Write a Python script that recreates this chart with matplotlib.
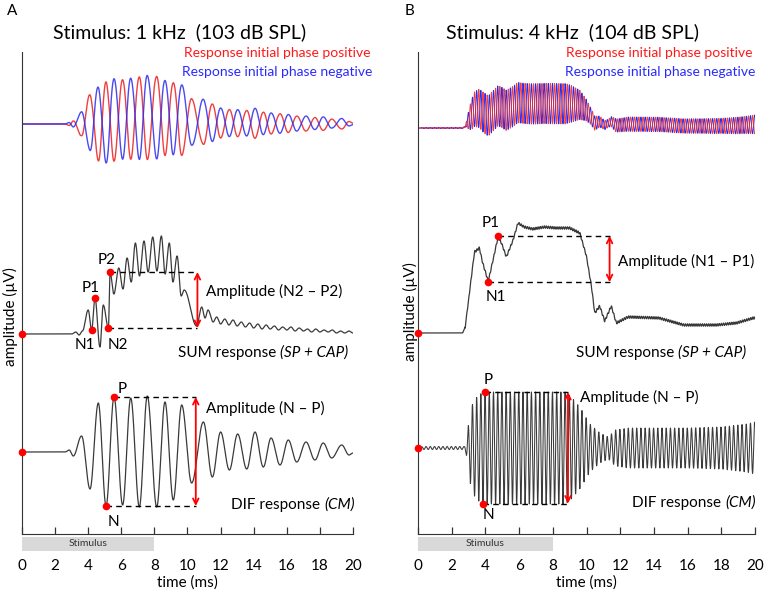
import numpy as np
import matplotlib.pyplot as plt

plt.rcParams['font.family'] = ['Lato', 'DejaVu Sans']

# ---- values (time in ms, amplitude in arbitrary units) ----
# Panel A, 1 kHz: SUM response, extrema of the trace
sum_a_t = [0, 3.0, 3.25, 3.45, 3.65, 4.0, 4.21, 4.41, 4.71, 4.91, 5.22, 5.32,
           5.55, 5.85, 6.1, 6.35, 6.6, 6.85, 7.1, 7.37, 7.62, 7.9, 8.15, 8.42,
           8.65, 8.9, 9.12, 9.37, 9.62, 9.8, 10.55, 10.86, 11.06, 11.24, 11.55,
           11.76, 12.0, 12.25, 12.5, 12.75, 13.0, 13.25, 13.5, 13.75, 14.0,
           14.25, 14.5, 14.75, 15.0, 15.25, 15.5, 15.75, 16.0, 16.25, 16.5,
           16.75, 17.0, 17.25, 17.5, 17.75, 18.0, 18.25, 18.5, 18.75, 19.0,
           19.25, 19.5, 19.75, 20.0]
sum_a_v = [0, 0, 2, -1, 3, 24, 4, 36, -13, 29, 6, 62,
           40, 66, 45, 76, 52, 91, 58, 93, 62, 97, 63, 98,
           60, 91, 52, 78, 38, 44, 8, 27, 16, 24, 12,
           17, 10, 15, 9, 14, 8, 12, 7, 11, 6,
           10, 5, 9, 5, 8, 4, 7, 4, 7, 3,
           6, 3, 5, 2, 5, 2, 4, 2, 4, 1,
           3, 1, 3, 1]
# Panel A: DIF response, extrema of the trace
dif_a_t = [0, 2.6, 2.85, 3.1, 3.6, 4.11, 4.61, 5.08, 5.56, 6.08, 6.57, 7.09,
           7.57, 8.14, 8.64, 9.14, 9.65, 10.25, 10.96, 11.5, 12.0, 12.53, 13.03,
           13.58, 14.08, 14.58, 15.05, 15.59, 16.09, 16.6, 17.16, 17.7, 18.2,
           18.71, 19.32, 19.76, 20.0]
dif_a_v = [0, 0, 2, -4, 16, -37, 49, -54, 55, -53, 54, -55,
           56, -55, 50, -48, 47, -31, 30, -25, 20, -18, 18,
           -17, 20, -15, 14, -13, 12, -10, 10, -8, 9,
           -6, 7, -3, -1]
sum_a_marks = {'N1': 4.21, 'P1': 4.41, 'N2': 5.22, 'P2': 5.32}
dif_a_marks = {'N': 5.08, 'P': 5.56}

# Panel B, 4 kHz: SUM response (slow shape) and DIF envelope
sum_b_t = [0, 2.65, 2.8, 3.05, 3.35, 3.64, 3.84, 4.17, 4.45, 4.75, 4.95, 5.24,
           5.64, 5.93, 6.3, 6.8, 7.5, 8.2, 9.0, 9.6, 9.99, 10.29, 10.49, 10.78,
           11.08, 11.47, 11.77, 12.46, 14.3, 15.77, 17.7, 18.9, 19.9, 20.0]
sum_b_v = [0, 0, 6, 40, 81, 85, 70, 51.6, 73, 96, 90, 76,
           93, 110, 106, 104, 106, 105, 105, 100, 77, 47, 20, 27,
           12, 27, 10, 16, 15, 8, 8, 10, 15, 15]
sum_b_ripple = 1.2
dif_b_env_t = [0, 0.3, 2.75, 2.85, 2.96, 3.16, 3.35, 3.6, 3.9, 8.75, 9.1, 9.64,
               10.2, 10.8, 11.3, 11.7, 12.5, 14.0, 16.0, 18.0, 19.5, 20.0]
dif_b_env_v = [0, 1.5, 1.5, 5, 20, 41, 48, 53, 56, 56, 51, 40,
               24, 15, 11, 18, 20, 20, 20, 21, 24, 26]
dif_b_freq = 4.0      # kHz
dif_b_peak = 3.98     # time of the marked P peak
sum_b_marks = {'N1': 4.17, 'P1': 4.75}
dif_b_marks = {'N': 3.855, 'P': 3.98}

ticks = list(range(0, 21, 2))

RED = '#ee2a2a'
BLUE = '#2a2aee'
GRAY = '#3a3a3a'

t = np.linspace(0, 20, 8001)


def smooth(tk, vk, x):
    tk = np.asarray(tk, float)
    vk = np.asarray(vk, float)
    i = np.clip(np.searchsorted(tk, x, side='right') - 1, 0, len(tk) - 2)
    u = (x - tk[i]) / (tk[i + 1] - tk[i])
    w = (1 - np.cos(np.pi * u)) / 2
    return vk[i] + (vk[i + 1] - vk[i]) * w


sum_a = smooth(sum_a_t, sum_a_v, t)
dif_a = smooth(dif_a_t, dif_a_v, t)
sum_b = np.interp(t, sum_b_t, sum_b_v) + sum_b_ripple * np.cos(2 * np.pi * 2 * dif_b_freq * t) * (t > 2.8)
dif_b = np.interp(t, dif_b_env_t, dif_b_env_v) * np.cos(2 * np.pi * dif_b_freq * (t - dif_b_peak))

fig = plt.figure(figsize=(7.67, 5.96), dpi=100)
W, H = 767, 596


def setup_axes(left_px, width_px):
    ax = fig.add_axes([left_px / W, (H - 534) / H, width_px / W, 482 / H])
    ax.set_xlim(0, 20)
    ax.set_ylim(0, 482)
    for s in ('top', 'right'):
        ax.spines[s].set_visible(False)
    ax.spines['left'].set_color('#333333')
    ax.spines['bottom'].set_color('#333333')
    ax.set_yticks([])
    ax.set_xticks(ticks)
    ax.tick_params(axis='x', direction='in', length=5, width=0.9, color='#333333',
                   pad=18, labelsize=11)
    ax.set_xlabel('time (ms)', fontsize=11, labelpad=2)
    ax.add_patch(plt.Rectangle((0, -17), 8, 14, color='#d9d9d9', clip_on=False, lw=0))
    ax.text(4, -10, 'Stimulus', fontsize=7.5, ha='center', va='center', color='#333333')
    return ax


def mixed_label(ax, x_right, y, normal, italic, size=11):
    it = ax.text(x_right, y, italic, style='italic', ha='right', va='center', fontsize=size)
    r = fig.canvas.get_renderer()
    bb = it.get_window_extent(renderer=r)
    xl = ax.transData.inverted().transform((bb.x0, 0))[0]
    ax.text(xl, y, normal, ha='right', va='center', fontsize=size)


def dot(ax, x, y):
    ax.plot(x, y, 'o', color='red', ms=4.5, clip_on=False, zorder=5)


def amp_marker(ax, t_lo, t_hi, t_arrow, base, v_lo, v_hi, text, text_x, text_y):
    ax.plot([t_hi, t_arrow], [base + v_hi] * 2, color='black', lw=1, dashes=(4, 3))
    ax.plot([t_lo, t_arrow], [base + v_lo] * 2, color='black', lw=1, dashes=(4, 3))
    ax.annotate('', xy=(t_arrow, base + v_hi), xytext=(t_arrow, base + v_lo),
                arrowprops=dict(arrowstyle='<->', color='red', lw=1.3,
                                mutation_scale=10, shrinkA=0, shrinkB=0))
    ax.text(text_x, text_y, text, fontsize=11, va='center', ha='left')


# ---------------- Panel A ----------------
axA = setup_axes(22, 331)
base_top, base_sum, base_dif = 410, 200, 82
axA.plot(t, base_top + 0.1 * sum_a - 0.75 * dif_a, color=RED, lw=1, alpha=0.9)
axA.plot(t, base_top + 0.1 * sum_a + 0.75 * dif_a, color=BLUE, lw=1, alpha=0.85)
axA.plot(t, base_sum + sum_a, color=GRAY, lw=0.9)
axA.plot(t, base_dif + dif_a, color=GRAY, lw=0.9)

dot(axA, 0, base_sum)
dot(axA, 0, base_dif)
sv = {k: np.interp(v, t, sum_a) for k, v in sum_a_marks.items()}
for k, tm in sum_a_marks.items():
    dot(axA, tm, base_sum + sv[k])
amp_marker(axA, sum_a_marks['N2'], sum_a_marks['P2'], 10.6, base_sum,
           sv['N2'], sv['P2'], 'Amplitude (N2 – P2)', 11.1, 243)
for lab, (x, y) in {'P2': (5.1, 274), 'P1': (4.15, 246), 'N1': (3.8, 189), 'N2': (5.8, 189)}.items():
    axA.text(x, y, lab, fontsize=11, ha='center', va='center')
mixed_label(axA, 19.7, 181, 'SUM response ', '(SP + CAP)')

dv = {k: np.interp(v, t, dif_a) for k, v in dif_a_marks.items()}
for k, tm in dif_a_marks.items():
    dot(axA, tm, base_dif + dv[k])
amp_marker(axA, dif_a_marks['N'], dif_a_marks['P'], 10.5, base_dif,
           dv['N'], dv['P'], 'Amplitude (N – P)', 11.1, 126)
axA.text(6.08, 145, 'P', fontsize=11, ha='center', va='center')
axA.text(5.5, 12, 'N', fontsize=11, ha='center', va='center')
mixed_label(axA, 20.1, 29, 'DIF response ', '(CM)')

# ---------------- Panel B ----------------
axB = setup_axes(418, 337)
base_top, base_sum, base_dif = 406, 201, 86
axB.plot(t, base_top + 0.23 * sum_b + 0.36 * dif_b, color=BLUE, lw=0.7)
axB.plot(t, base_top + 0.23 * sum_b - 0.36 * dif_b, color=RED, lw=0.7, alpha=0.9)
axB.plot(t, base_sum + sum_b, color=GRAY, lw=0.9)
axB.plot(t, base_dif + dif_b, color=GRAY, lw=0.75)

dot(axB, 0, base_sum)
dot(axB, 0, base_dif)
sv = {k: np.interp(v, t, sum_b) for k, v in sum_b_marks.items()}
for k, tm in sum_b_marks.items():
    dot(axB, tm, base_sum + sv[k])
amp_marker(axB, sum_b_marks['N1'], sum_b_marks['P1'], 11.37, base_sum,
           sv['N1'], sv['P1'], 'Amplitude (N1 – P1)', 11.85, 273)
axB.text(4.33, 311, 'P1', fontsize=11, ha='center', va='center')
axB.text(4.63, 237, 'N1', fontsize=11, ha='center', va='center')
mixed_label(axB, 19.5, 181, 'SUM response ', '(SP + CAP)')

dv = {k: np.interp(v, t, dif_b) for k, v in dif_b_marks.items()}
for k, tm in dif_b_marks.items():
    dot(axB, tm, base_dif + dv[k])
amp_marker(axB, dif_b_marks['N'], dif_b_marks['P'], 8.9, base_dif,
           dv['N'], dv['P'], 'Amplitude (N – P)', 9.6, 137)
axB.text(4.15, 154, 'P', fontsize=11, ha='center', va='center')
axB.text(4.2, 19, 'N', fontsize=11, ha='center', va='center')
mixed_label(axB, 20.05, 31, 'DIF response ', '(CM)')

# ---------------- figure texts ----------------
def ftext(x, y, s, **kw):
    fig.text(x / W, 1 - y / H, s, **kw)


ftext(7, 11, 'A', fontsize=11, ha='left', va='center')
ftext(405, 11, 'B', fontsize=11, ha='left', va='center')
ftext(180, 32, 'Stimulus: 1 kHz  (103 dB SPL)', fontsize=14, ha='center', va='center')
ftext(573, 32, 'Stimulus: 4 kHz  (104 dB SPL)', fontsize=14, ha='center', va='center')
for x1 in (372, 755):
    ftext(x1 - 2, 53, 'Response initial phase positive', fontsize=10, color='#ff1a1a',
          va='center', ha='right')
    ftext(x1, 72, 'Response initial phase negative', fontsize=10, color='#2a2aff',
          va='center', ha='right')
ftext(10, 317, 'amplitude (µV)', fontsize=11, rotation=90, ha='center', va='center')
ftext(410, 312, 'amplitude (µV)', fontsize=11, rotation=90, ha='center', va='center')

fig.savefig('out.png', dpi=100)
